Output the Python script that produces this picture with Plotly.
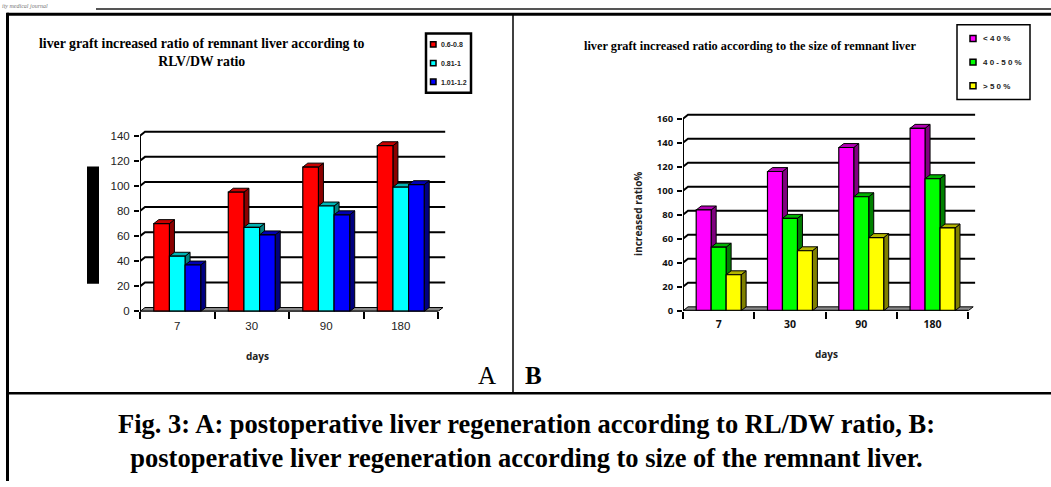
import plotly.graph_objects as go

W, H = 1051, 487

# ---------------- data ----------------
days = ["7", "30", "90", "180"]

a_title = "liver graft increased ratio of remnant liver according to<br>RLV/DW ratio"
a_labels = ["0.6-0.8", "0.81-1", "1.01-1.2"]
a_06_08 = [70, 95, 115, 132]
a_081_1 = [44, 67, 84, 99]
a_101_12 = [37, 61, 77, 101]
a_yticks = [0, 20, 40, 60, 80, 100, 120, 140]

b_title = "liver graft increased ratio according to the size of remnant liver"
b_labels = ["< 4 0 %", "4 0 - 5 0 %", "> 5 0 %"]
b_lt40 = [84, 116, 136, 152]
b_40_50 = [53, 77, 95, 110]
b_gt50 = [30, 50, 61, 69]
b_yticks = [0, 20, 40, 60, 80, 100, 120, 140, 160]

caption = ("Fig. 3: A: postoperative liver regeneration according to RL/DW ratio, B:<br>"
           "postoperative liver regeneration according to size of the remnant liver.")

# ---------------- helpers ----------------
def fx(px):
    return px / W


def fy(py):
    return 1 - py / H


fig = go.Figure()
shapes = []
annotations = []
layout_axes = {}


def chart(idx, x_left, spacing, xr1, y0px, ppu, ytop, series, fronts, sides, tops,
          yticks, tickfont, catfont, w=0.21, ddx_px=5, ddy_px=4):
    xa = "x" if idx == 1 else f"x{idx}"
    ya = "y" if idx == 1 else f"y{idx}"
    xname = "xaxis" if idx == 1 else f"xaxis{idx}"
    yname = "yaxis" if idx == 1 else f"yaxis{idx}"
    x_right = x_left + (xr1 + 0.5) * spacing
    ytop_px = y0px - ytop * ppu
    ddx = ddx_px / spacing
    ddy = ddy_px / ppu
    ncat = len(days)
    cats = list(range(ncat))

    layout_axes[xname] = dict(
        domain=[fx(x_left), fx(x_right)], range=[-0.5, xr1], anchor=ya,
        tickvals=cats, ticktext=days, ticks="", showgrid=False, zeroline=False,
        showline=False, tickfont=catfont, ticklabelstandoff=6,
        minor=dict(tickvals=[c - 0.5 for c in cats] + [ncat - 0.5], ticks="outside",
                   ticklen=7, tickwidth=2, tickcolor="black", showgrid=False),
        fixedrange=True,
    )
    layout_axes[yname] = dict(
        domain=[fy(y0px), fy(ytop_px)], range=[0, ytop], anchor=xa,
        tickvals=yticks, ticks="outside", ticklen=5, tickwidth=2, tickcolor="black",
        showgrid=False, zeroline=False, showline=False, tickfont=tickfont,
        ticklabelstandoff=2, fixedrange=True,
    )

    # back-wall grid lines (3D offset)
    for v in yticks[1:]:
        shapes.append(dict(type="path", xref=xa, yref=ya, layer="below",
                           path=f"M -0.5,{v} L {-0.5 + ddx},{v + ddy} L {xr1},{v + ddy}",
                           line=dict(color="black", width=2)))
    # floor
    shapes.append(dict(type="path", xref=xa, yref=ya, layer="below",
                       path=f"M -0.5,0 L {ncat - 0.5},0 L {ncat - 0.5 + ddx},{ddy} L {-0.5 + ddx},{ddy} Z",
                       fillcolor="#8a8a8a", line=dict(color="black", width=1)))
    # front axis lines
    shapes.append(dict(type="line", xref=xa, yref=ya, layer="above",
                       x0=-0.5, y0=0, x1=-0.5, y1=yticks[-1], line=dict(color="black", width=2)))
    shapes.append(dict(type="line", xref=xa, yref=ya, layer="above",
                       x0=-0.5, y0=0, x1=ncat - 0.5, y1=0, line=dict(color="black", width=2)))

    offs = [(i - (len(series) - 1) / 2) * w for i in range(len(series))]
    # 3D side / top faces
    for c in cats:
        for si, vals in enumerate(series):
            v = vals[c]
            x0 = c + offs[si] - w / 2
            x1 = x0 + w
            shapes.append(dict(type="path", xref=xa, yref=ya, layer="below",
                               path=f"M {x1},0 L {x1 + ddx},{ddy} L {x1 + ddx},{v + ddy} L {x1},{v} Z",
                               fillcolor=sides[si], line=dict(color="black", width=1)))
            shapes.append(dict(type="path", xref=xa, yref=ya, layer="below",
                               path=f"M {x0},{v} L {x1},{v} L {x1 + ddx},{v + ddy} L {x0 + ddx},{v + ddy} Z",
                               fillcolor=tops[si], line=dict(color="black", width=1)))
    # front faces
    for si, vals in enumerate(series):
        fig.add_trace(go.Bar(x=[c + offs[si] for c in cats], y=vals, width=w,
                             marker=dict(color=fronts[si], line=dict(color="black", width=1.2)),
                             xaxis=xa, yaxis=ya, showlegend=False, hoverinfo="y"))


arial = "Liberation Sans, Arial, sans-serif"
sansb = "Open Sans, Noto Sans, sans-serif"
serif = "Liberation Serif, Times New Roman, serif"

chart(1, 140, 74.5, 3.6, 315, 1.274, 145,
      [a_06_08, a_081_1, a_101_12],
      ["#ff0000", "#00ffff", "#0000ff"],
      ["#8b0000", "#008080", "#000080"],
      ["#c80000", "#00b4b4", "#0000b4"],
      a_yticks, dict(family=arial, size=11.5, color="#222"),
      dict(family=arial, size=11.5, color="#222"))

chart(2, 683, 71.3, 3.6, 314.3, 1.218, 165,
      [b_lt40, b_40_50, b_gt50],
      ["#ff00ff", "#00ff00", "#ffff00"],
      ["#800080", "#008000", "#808000"],
      ["#b400b4", "#00b400", "#b4b400"],
      b_yticks, dict(family=sansb, size=9.5, color="#111", weight="bold"),
      dict(family=sansb, size=10.5, color="#111", weight="bold"))

# ---------------- titles / labels ----------------
annotations.append(dict(xref="paper", yref="paper", x=fx(202), y=fy(52), text=f"<b>{a_title}</b>",
                        showarrow=False, xanchor="center", yanchor="middle",
                        font=dict(family=serif, size=13.8, color="black")))
annotations.append(dict(xref="paper", yref="paper", x=fx(750), y=fy(46), text=f"<b>{b_title}</b>",
                        showarrow=False, xanchor="center", yanchor="middle",
                        font=dict(family=serif, size=12.3, color="black")))
annotations.append(dict(xref="paper", yref="paper", x=fx(257), y=fy(360), text="<b>days</b>",
                        showarrow=False, xanchor="center", yanchor="middle",
                        font=dict(family=sansb, size=10, color="#222")))
annotations.append(dict(xref="paper", yref="paper", x=fx(826), y=fy(358), text="<b>days</b>",
                        showarrow=False, xanchor="center", yanchor="middle",
                        font=dict(family=sansb, size=10, color="#222")))
annotations.append(dict(xref="paper", yref="paper", x=fx(638), y=fy(216), text="<b>increased ratio%</b>",
                        showarrow=False, xanchor="center", yanchor="middle", textangle=-90,
                        font=dict(family=sansb, size=10, color="#222")))

# ---------------- legends (drawn) ----------------
shapes.append(dict(type="rect", xref="paper", yref="paper", x0=fx(426), x1=fx(471), y0=fy(33), y1=fy(93),
                   line=dict(color="black", width=2.5), fillcolor="white"))
for i, (lab, col) in enumerate(zip(a_labels, ["#ff0000", "#00ffff", "#0000ff"])):
    yc = 44 + i * 19
    shapes.append(dict(type="rect", xref="paper", yref="paper", x0=fx(430.5), x1=fx(436), y0=fy(yc - 2.75), y1=fy(yc + 2.75),
                       line=dict(color="black", width=1.5), fillcolor=col))
    annotations.append(dict(xref="paper", yref="paper", x=fx(439), y=fy(yc + 0.5), text=f"<b>{lab}</b>",
                            showarrow=False, xanchor="left", yanchor="middle",
                            font=dict(family=arial, size=7, color="#222")))

shapes.append(dict(type="rect", xref="paper", yref="paper", x0=fx(957), x1=fx(1030), y0=fy(24), y1=fy(100),
                   line=dict(color="black", width=1.5), fillcolor="white"))
for i, (lab, col) in enumerate(zip(b_labels, ["#ff00ff", "#00ff00", "#ffff00"])):
    yc = 38 + i * 24
    shapes.append(dict(type="rect", xref="paper", yref="paper", x0=fx(970), x1=fx(976), y0=fy(yc - 3), y1=fy(yc + 3),
                       line=dict(color="black", width=1.5), fillcolor=col))
    annotations.append(dict(xref="paper", yref="paper", x=fx(981), y=fy(yc + 0.5), text=f"<b>{lab}</b>",
                            showarrow=False, xanchor="left", yanchor="middle",
                            font=dict(family=arial, size=8, color="#222")))

# ---------------- page frame ----------------
shapes.append(dict(type="line", xref="paper", yref="paper", x0=fx(96), x1=1, y0=fy(8), y1=fy(8),
                   line=dict(color="#555", width=2)))
shapes.append(dict(type="line", xref="paper", yref="paper", x0=fx(7), x1=1, y0=fy(13.5), y1=fy(13.5),
                   line=dict(color="black", width=3)))
shapes.append(dict(type="line", xref="paper", yref="paper", x0=fx(7.5), x1=fx(7.5), y0=fy(12), y1=0,
                   line=dict(color="black", width=3)))
shapes.append(dict(type="line", xref="paper", yref="paper", x0=fx(513), x1=fx(513), y0=fy(13), y1=fy(398),
                   line=dict(color="black", width=1.5)))
shapes.append(dict(type="line", xref="paper", yref="paper", x0=fx(7), x1=1, y0=fy(398), y1=fy(398),
                   line=dict(color="black", width=2.5)))
shapes.append(dict(type="rect", xref="paper", yref="paper", x0=fx(87), x1=fx(99), y0=fy(168), y1=fy(287),
                   line=dict(width=0), fillcolor="black"))

annotations.append(dict(xref="paper", yref="paper", x=0, y=1, text="<i>ity medical journal</i>",
                        showarrow=False, xanchor="left", yanchor="top",
                        font=dict(family=serif, size=6, color="#777")))
annotations.append(dict(xref="paper", yref="paper", x=fx(498), y=fy(380), text="A",
                        showarrow=False, xanchor="right", yanchor="middle",
                        font=dict(family=serif, size=25, color="black")))
annotations.append(dict(xref="paper", yref="paper", x=fx(523), y=fy(380), text="<b>B</b>",
                        showarrow=False, xanchor="left", yanchor="middle",
                        font=dict(family=serif, size=25, color="black")))
annotations.append(dict(xref="paper", yref="paper", x=fx(526), y=fy(446), text=f"<b>{caption}</b>",
                        showarrow=False, xanchor="center", yanchor="middle",
                        font=dict(family=serif, size=26.5, color="black")))

fig.update_layout(
    width=W, height=H, margin=dict(l=0, r=0, t=0, b=0),
    paper_bgcolor="white", plot_bgcolor="rgba(0,0,0,0)",
    barmode="overlay", showlegend=False,
    shapes=shapes, annotations=annotations, **layout_axes,
)

fig.write_html("out.html")
